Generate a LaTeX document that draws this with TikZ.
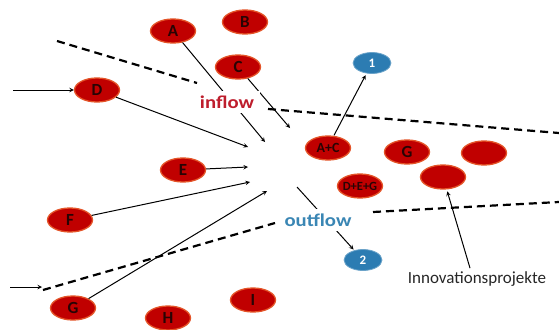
\documentclass[tikz,border=0pt]{standalone}
\usepackage{fontspec}
\setmainfont{Carlito}
\usetikzlibrary{shapes.geometric}
\definecolor{projred}{RGB}{192,0,0}
\definecolor{projrim}{RGB}{228,84,40}
\definecolor{projtext}{RGB}{40,4,4}
\definecolor{exitblue}{RGB}{44,124,178}
\definecolor{inred}{RGB}{190,30,45}
\definecolor{outblue}{RGB}{58,134,180}
\begin{document}
\begin{tikzpicture}[>=stealth,x=1pt,y=-1pt,
	proj/.style={ellipse,fill=projred,draw=projrim,line width=1.3pt,minimum width=45pt,minimum height=24pt,inner sep=0pt,text=projtext,font=\bfseries\fontsize{17}{17}\selectfont},
	exitnode/.style={ellipse,fill=exitblue,draw=exitblue!70,line width=0.8pt,minimum width=38pt,minimum height=21pt,inner sep=0pt,text=white,font=\bfseries\fontsize{13}{13}\selectfont},
	flowlabel/.style={fill=white,inner sep=5pt,xscale=1.15,font=\bfseries\fontsize{18}{18}\selectfont},
	edge/.style={->,line width=1pt},
	border/.style={line width=2.2pt,dash pattern=on 8pt off 5pt}]
		\useasboundingbox (0,0) rectangle (559,329);
		% projects outside the funnel
		\node[proj] (a) at (173,31) {A};
		\node[proj] (b) at (245,22) {B};
		\node[proj] (c) at (238,67) {C};
		\node[proj] (d) at (97,90) {D};
		\node[proj] (e) at (183,170) {E};
		\node[proj] (f) at (70,220) {F};
		\node[proj] (g) at (73,308) {G};
		\node[proj] (h) at (168,318) {H};
		\node[proj] (i) at (253,300) {I};
		% projects inside the funnel
		\node[proj,font=\bfseries\fontsize{14}{14}\selectfont] (ac) at (328,148) {A+C};
		\node[proj,inner xsep=-8pt,font=\bfseries\fontsize{12.5}{12.5}\selectfont] (deg) at (360,186) {D+E+G};
		\node[proj] (gr) at (407,152) {G};
		\node[proj] (pa) at (484,153) {};
		\node[proj] (pb) at (443,177) {};
		\node[exitnode] (one) at (372,63) {1};
		\node[exitnode] (two) at (363,260) {2};
		% funnel borders
		\draw[border] (57,41) -- (197,83);
		\draw[border] (268,109) -- (559,133);
		\draw[border] (43,290) -- (275,223);
		\draw[border] (373,212) -- (559,202);
		% flows
		\coordinate (inD) at (13,90);
		\coordinate (inL) at (10,287);
		\coordinate (inLe) at (42,287);
		\coordinate (aT) at (265,142);
		\coordinate (cT) at (290,128);
		\coordinate (dT) at (248,147);
		\coordinate (eT) at (248,167);
		\coordinate (fT) at (250,182);
		\coordinate (gT) at (267,191);
		\coordinate (outS) at (297,187);
		\draw[edge] (inD) -- (d);
		\draw[edge] (inL) -- (inLe);
		\draw[edge] (a) -- (aT);
		\draw[edge] (c) -- (cT);
		\draw[edge] (d) -- (dT);
		\draw[edge] (e) -- (eT);
		\draw[edge] (f) -- (fT);
		\draw[edge] (g) -- (gT);
		\draw[edge,shorten >=2pt] (ac.north) ++(6,0) -- (one);
		\draw[edge,shorten >=1pt] (outS) -- (two);
		\node[flowlabel,text=inred] (inflow) at (227,102) {inflow};
		\node[flowlabel,text=outblue] (outflow) at (318,220) {outflow};
		\node[font=\fontsize{17}{17}\selectfont,text=black!85] (innov) at (477,279) {Innovationsprojekte};
		\draw[edge,shorten >=2pt] (innov.north) ++(-7,0) -- (pb);
		\end{tikzpicture}
\end{document}
